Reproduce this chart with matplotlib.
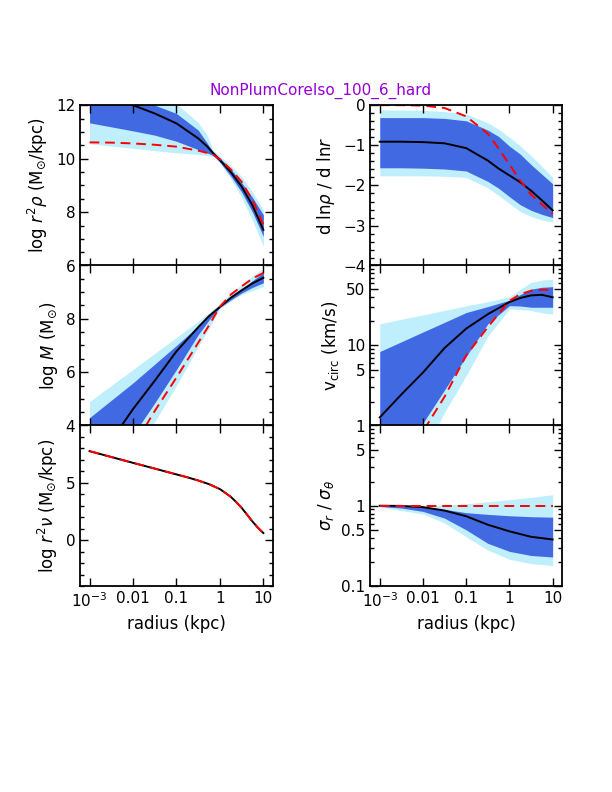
import numpy as np
import matplotlib.pyplot as plt
from matplotlib.ticker import MultipleLocator, FixedLocator, FixedFormatter, LogLocator, NullFormatter

# ---- data (log10 radius grids, one per panel) ----
# top left: log r^2 rho
tl_logr = [-3, -2.5, -2, -1.5, -1, -0.5, -0.3, -0.15, 0, 0.25, 0.5, 0.75, 1]
tl_med = [12.45, 12.25, 12.0, 11.69, 11.32, 10.76, 10.47, 10.2, 9.95, 9.5, 8.96, 8.25, 7.34]
tl_true = [10.61, 10.6, 10.57, 10.52, 10.45, 10.3, 10.22, 10.14, 9.98, 9.6, 9.14, 8.45, 7.53]
tl_hi1 = [12.8, 12.5, 12.2, 12.0, 11.69, 11.07, 10.6, 10.22, 10.02, 9.62, 9.1, 8.55, 7.9]
tl_lo1 = [11.34, 11.19, 11.04, 10.88, 10.65, 10.34, 10.22, 10.12, 9.87, 9.35, 8.75, 8.0, 7.09]
tl_hi2 = [13.0, 12.9, 12.7, 12.4, 12.05, 11.35, 10.9, 10.3, 10.1, 9.75, 9.33, 8.75, 8.09]
tl_lo2 = [10.56, 10.47, 10.39, 10.3, 10.22, 10.16, 10.12, 10.08, 9.84, 9.25, 8.55, 7.7, 6.72]

# top right: d ln rho / d ln r
tr_logr = [-3, -2.5, -2, -1.5, -1, -0.5, -0.25, 0, 0.25, 0.5, 0.75, 1]
tr_med = [-0.91, -0.91, -0.92, -0.95, -1.07, -1.38, -1.58, -1.75, -1.92, -2.13, -2.37, -2.62]
tr_true = [0.0, 0.0, -0.01, -0.07, -0.28, -0.71, -1.08, -1.48, -1.88, -2.23, -2.47, -2.71]
tr_hi1 = [-0.31, -0.31, -0.31, -0.33, -0.39, -0.62, -0.78, -1.02, -1.22, -1.48, -1.72, -1.96]
tr_lo1 = [-1.56, -1.56, -1.57, -1.59, -1.64, -1.9, -2.07, -2.28, -2.48, -2.62, -2.72, -2.8]
tr_hi2 = [-0.12, -0.12, -0.13, -0.16, -0.22, -0.44, -0.6, -0.8, -1.02, -1.26, -1.52, -1.8]
tr_lo2 = [-1.76, -1.76, -1.76, -1.77, -1.8, -2.06, -2.25, -2.45, -2.65, -2.77, -2.86, -2.91]

# middle left: log M
ml_logr = [-3, -2.5, -2, -1.5, -1, -0.5, -0.25, 0, 0.25, 0.5, 0.75, 1]
ml_med = [2.3, 3.45, 4.62, 5.68, 6.78, 7.68, 8.1, 8.44, 8.78, 9.06, 9.32, 9.53]
ml_true = [0.5, 1.85, 3.2, 4.55, 5.8, 7.1, 7.75, 8.45, 8.9, 9.21, 9.5, 9.71]
ml_hi1 = [4.3, 4.95, 5.6, 6.3, 7.0, 7.72, 8.12, 8.5, 8.85, 9.12, 9.42, 9.72]
ml_lo1 = [1.5, 2.6, 3.65, 4.85, 6.1, 7.4, 7.95, 8.42, 8.7, 8.96, 9.17, 9.34]
ml_hi2 = [4.9, 5.5, 6.1, 6.7, 7.3, 7.9, 8.22, 8.55, 8.95, 9.28, 9.6, 9.88]
ml_lo2 = [0.5, 1.6, 2.9, 4.15, 5.5, 6.95, 7.65, 8.38, 8.66, 8.9, 9.05, 9.2]

# middle right: v_circ (km/s)
mr_logr = [-3, -2.5, -2, -1.5, -1, -0.5, 0, 0.25, 0.5, 0.75, 1]
mr_med = [1.27, 2.45, 4.6, 9.3, 16.2, 24.5, 34.7, 39, 42, 42.7, 39.8]
mr_true = [0.085, 0.27, 0.85, 2.3, 7.5, 16.9, 36, 43.5, 48, 49.5, 49]
mr_hi1 = [8.4, 11.1, 14.7, 19.4, 25.7, 30.5, 36.5, 43, 50.2, 53, 53.9]
mr_lo1 = [0.3, 0.45, 1.08, 2.8, 7.3, 18.6, 31.3, 31, 29.9, 29.9, 29.9]
mr_hi2 = [18.6, 21.2, 24, 27.3, 31.1, 35, 40.5, 50, 61, 65, 67]
mr_lo2 = [0.1, 0.2, 0.45, 1.47, 4.2, 13, 28.5, 28, 27.2, 25.5, 24.6]

# bottom left: log r^2 nu (fit and truth coincide)
bl_logr = [-3, -2.5, -2, -1.5, -1, -0.75, -0.5, -0.25, 0, 0.125, 0.25, 0.375,
           0.5, 0.625, 0.75, 0.875, 1]
bl_med = [7.76, 7.25, 6.74, 6.24, 5.73, 5.48, 5.2, 4.88, 4.45, 4.12, 3.78, 3.32,
          2.82, 2.22, 1.62, 1.08, 0.62]
bl_true = [7.76, 7.25, 6.74, 6.24, 5.73, 5.48, 5.2, 4.88, 4.45, 4.12, 3.78, 3.32,
           2.82, 2.22, 1.62, 1.08, 0.62]

# bottom right: sigma_r / sigma_theta
br_logr = [-3, -2.5, -2, -1.5, -1, -0.5, 0, 0.5, 1]
br_med = [1.0, 0.995, 0.96, 0.87, 0.74, 0.58, 0.48, 0.41, 0.38]
br_true = [1.0, 1.0, 1.0, 1.0, 1.0, 1.0, 1.0, 1.0, 1.0]
br_hi1 = [1.0, 1.0, 0.97, 0.9, 0.82, 0.78, 0.75, 0.73, 0.72]
br_lo1 = [0.98, 0.935, 0.85, 0.70, 0.50, 0.34, 0.27, 0.24, 0.23]
br_hi2 = [1.0, 1.0, 1.0, 1.01, 1.06, 1.12, 1.19, 1.27, 1.37]
br_lo2 = [0.96, 0.87, 0.79, 0.61, 0.41, 0.28, 0.215, 0.19, 0.18]

xtick_vals = [1e-3, 1e-2, 1e-1, 1, 10]
xtick_labels = ['$10^{-3}$', '0.01', '0.1', '1', '10']

light = '#bfeefc'
dark = '#4169e1'

plt.rcParams['font.size'] = 11
plt.rcParams['mathtext.default'] = 'regular'

fig = plt.figure(figsize=(6.12, 7.92), dpi=100)

lx, rx = 0.1307, 0.605
w_l, w_r = 0.3149, 0.3132
h = 0.2027
rows = [0.6645, 0.4625, 0.2601]


def panel(pos, logr, med, true, hi1=None, lo1=None, hi2=None, lo2=None):
    ax = fig.add_axes(pos)
    r = 10.0 ** np.array(logr)
    if hi2 is not None:
        ax.fill_between(r, lo2, hi2, color=light, lw=0)
        ax.fill_between(r, lo1, hi1, color=dark, lw=0)
    ax.plot(r, med, color='black', lw=1.4)
    ax.plot(r, true, color='red', lw=1.4, dashes=(5, 3))
    ax.set_xscale('log')
    ax.set_xlim(10 ** -3.22, 10 ** 1.215)
    ax.xaxis.set_major_locator(FixedLocator(xtick_vals))
    ax.xaxis.set_major_formatter(FixedFormatter(xtick_labels))
    ax.xaxis.set_minor_locator(LogLocator(base=10, subs=np.arange(2, 10)))
    ax.xaxis.set_minor_formatter(NullFormatter())
    ax.tick_params(which='both', direction='in', top=True, right=True, width=1.0)
    ax.tick_params(which='major', length=6)
    ax.tick_params(which='minor', length=3)
    for s in ax.spines.values():
        s.set_linewidth(1.3)
    return ax


# top left
ax = panel([lx, rows[0], w_l, h], tl_logr, tl_med, tl_true, tl_hi1, tl_lo1, tl_hi2, tl_lo2)
ax.set_ylim(6, 12)
ax.yaxis.set_major_locator(MultipleLocator(2))
ax.yaxis.set_minor_locator(MultipleLocator(0.5))
ax.set_ylabel(r'log $\it{r}^{2}\it{\rho}$ (M$_{\odot}$/kpc)', fontsize=12)
ax.tick_params(labelbottom=False)

# top right
ax = panel([rx, rows[0], w_r, h], tr_logr, tr_med, tr_true, tr_hi1, tr_lo1, tr_hi2, tr_lo2)
ax.set_ylim(-4, 0)
ax.yaxis.set_major_locator(MultipleLocator(1))
ax.yaxis.set_minor_locator(MultipleLocator(0.2))
ax.set_ylabel(r'd ln$\it{\rho}$ / d ln$\it{r}$', fontsize=12)
ax.tick_params(labelbottom=False)

# middle left
ax = panel([lx, rows[1], w_l, h], ml_logr, ml_med, ml_true, ml_hi1, ml_lo1, ml_hi2, ml_lo2)
ax.set_ylim(4, 10)
ax.yaxis.set_major_locator(FixedLocator([4, 6, 8, 10]))
ax.yaxis.set_major_formatter(FixedFormatter(['4', '6', '8', '']))
ax.yaxis.set_minor_locator(MultipleLocator(0.5))
ax.set_ylabel(r'log $\it{M}$ (M$_{\odot}$)', fontsize=12)
ax.tick_params(labelbottom=False)

# middle right
ax = panel([rx, rows[1], w_r, h], mr_logr, mr_med, mr_true, mr_hi1, mr_lo1, mr_hi2, mr_lo2)
ax.set_yscale('log')
ax.set_ylim(1, 100)
ax.yaxis.set_major_locator(FixedLocator([1, 5, 10, 50, 100]))
ax.yaxis.set_major_formatter(FixedFormatter(['1', '5', '10', '50', '']))
ax.yaxis.set_minor_locator(FixedLocator([2, 3, 4, 6, 7, 8, 9, 20, 30, 40, 60, 70, 80, 90]))
ax.yaxis.set_minor_formatter(NullFormatter())
ax.set_ylabel(r'v$_{\rm circ}$ (km/s)', fontsize=12)
ax.tick_params(labelbottom=False)

# bottom left
ax = panel([lx, rows[2], w_l, h], bl_logr, bl_med, bl_true)
ax.set_ylim(-4, 10)
ax.yaxis.set_major_locator(FixedLocator([0, 5, 10]))
ax.yaxis.set_major_formatter(FixedFormatter(['0', '5', '']))
ax.yaxis.set_minor_locator(MultipleLocator(1))
ax.set_ylabel(r'log $\it{r}^{2}\it{\nu}$ (M$_{\odot}$/kpc)', fontsize=12)
ax.set_xlabel('radius (kpc)', fontsize=12)

# bottom right
ax = panel([rx, rows[2], w_r, h], br_logr, br_med, br_true, br_hi1, br_lo1, br_hi2, br_lo2)
ax.set_yscale('log')
ax.set_ylim(0.1, 10)
ax.yaxis.set_major_locator(FixedLocator([0.1, 0.5, 1, 5, 10]))
ax.yaxis.set_major_formatter(FixedFormatter(['0.1', '0.5', '1', '5', '']))
ax.yaxis.set_minor_locator(FixedLocator([0.2, 0.3, 0.4, 0.6, 0.7, 0.8, 0.9, 2, 3, 4, 6, 7, 8, 9]))
ax.yaxis.set_minor_formatter(NullFormatter())
ax.set_ylabel(r'$\it{\sigma}_{r}$ / $\it{\sigma}_{\theta}$', fontsize=12)
ax.set_xlabel('radius (kpc)', fontsize=12)

fig.text(0.5245, 1 - 95.0 / 792, 'NonPlumCoreIso_100_6_hard', color='darkviolet',
         ha='center', va='baseline', fontsize=11)

fig.savefig('out.png', dpi=100)
